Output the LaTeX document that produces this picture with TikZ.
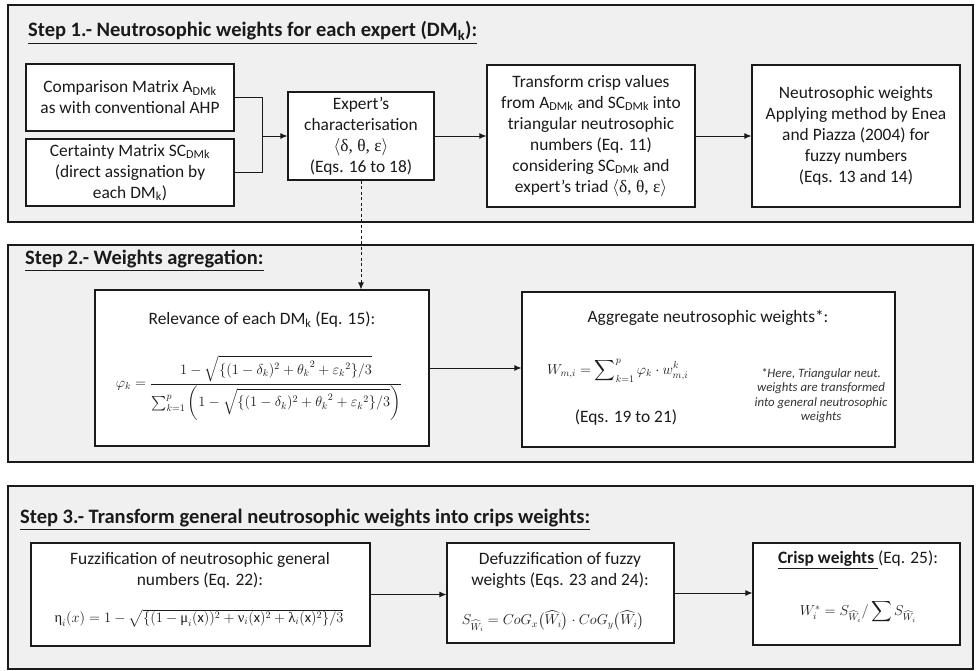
\documentclass[tikz,border=0pt]{standalone}
\usepackage{amsmath}
\usepackage{fontspec}
\setmainfont{Carlito}
\newfontfamily\grk{Liberation Serif}
\usetikzlibrary{arrows.meta}
\definecolor{panelgray}{HTML}{F0F0F0}
\definecolor{ink}{HTML}{1A1A1A}
\definecolor{notegray}{HTML}{333333}
\newcommand{\dmk}{\textsubscript{DMk}}
\newcommand{\triad}{$\langle${\grk δ, θ, ε}$\rangle$}
\newcommand{\gk}[1]{\text{\grk #1}}

\begin{document}
\begin{tikzpicture}[x=1pt,y=-1pt,
  panel/.style={draw=ink, line width=1.6pt, fill=panelgray},
  heading/.style={anchor=base west, inner sep=0pt, text=ink,
    font=\fontsize{20.5}{24}\selectfont\bfseries},
  frame/.style={draw=ink, line width=1.2pt, fill=white, inner sep=0pt},
  stepbox/.style={frame, align=center, text=ink,
    font=\fontsize{17.4}{21}\selectfont},
  txt/.style={inner sep=0pt, align=center, text=ink,
    font=\fontsize{17.4}{21}\selectfont},
  formula/.style={inner sep=0pt, text=ink, font=\fontsize{14.5}{17}\selectfont},
  note/.style={inner sep=0pt, align=center, text=notegray,
    font=\fontsize{12.8}{14.3}\selectfont\itshape},
  link/.style={draw=ink, line width=0.9pt},
  arr/.style={link, -{Latex[length=7pt,width=6pt]}},
]
\useasboundingbox (0,0) rectangle (976,671);

% ---------- panels ----------
\draw[panel] (8,5) rectangle (973,222);
\draw[panel] (8,245) rectangle (973,462);
\draw[panel] (8,486) rectangle (973,669);

\node[heading] (h1) at (28,37) {\underline{Step 1.- Neutrosophic weights for each expert (DM\textsubscript{k}):}};
\node[heading] (h2) at (25,264) {\underline{Step 2.- Weights agregation:}};
\node[heading] (h3) at (20,523) {\underline{Step 3.- Transform general neutrosophic weights into crips weights:}};

% ---------- step 1 ----------
\node[stepbox, minimum width=208, minimum height=67] (cmp) at (130,97.5)
  {Comparison Matrix A\dmk\\as with conventional AHP};
\node[stepbox, minimum width=208, minimum height=67] (cert) at (130,172.5)
  {Certainty Matrix SC\dmk\\(direct assignation by\\each DM\textsubscript{k})};
\node[stepbox, minimum width=146, minimum height=88] (exp) at (361,136)
  {Expert’s\\characterisation\\\triad\\(Eqs. 16 to 18)};
\node[stepbox, minimum width=208, minimum height=142] (tri) at (591,136)
  {Transform crisp values\\from A\dmk{} and SC\dmk{} into\\triangular neutrosophic\\numbers (Eq. 11)\\considering SC\dmk{} and\\expert’s triad \triad};
\node[stepbox, minimum width=208, minimum height=142] (nw) at (856,136)
  {Neutrosophic weights\\Applying method by Enea\\and Piazza (2004) for\\fuzzy numbers\\(Eqs. 13 and 14)};

\coordinate (join) at (262,136);
\draw[link] (cmp.east) -| (join);
\draw[link] (cert.east) -| (join);
\draw[arr] (join) -- (exp.west);
\draw[arr] (exp.east) -- (tri.west);
\draw[arr] (tri.east) -- (nw.west);

% ---------- step 2 ----------
\node[frame, minimum width=334, minimum height=156] (rel) at (262,368) {};
\node[txt] (relt) at (262,320) {Relevance of each DM\textsubscript{k} (Eq. 15):};
\node[formula] (relf) at (259,388) {$\displaystyle \varphi_k=\frac{1-\sqrt{\{(1-\delta_k)^2+{\theta_k}^2+{\varepsilon_k}^2\}/3}}{\sum_{k=1}^{p}\left(1-\sqrt{\{(1-\delta_k)^2+{\theta_k}^2+{\varepsilon_k}^2\}/3}\right)}$};

\node[frame, minimum width=373, minimum height=155] (agg) at (708.5,369.5) {};
\node[txt] (aggt) at (708,318) {Aggregate neutrosophic weights*:};
\node[formula, anchor=west] (aggf) at (547,371) {$\displaystyle W_{m,i}=\sum\nolimits_{k=1}^{p}\varphi_k\cdot w_{m,i}^{k}$};
\node[txt] (agge) at (626,418) {(Eqs. 19 to 21)};
\node[note] (aggn) at (821,395.5) {*Here, Triangular neut.\\weights are transformed\\into general neutrosophic\\weights};

\draw[arr, dash pattern=on 3pt off 2.5pt] (exp.south) -- (exp.south |- rel.north);
\draw[arr] (rel.east) -- (rel.east -| agg.west);

% ---------- step 3 ----------
\node[frame, minimum width=339, minimum height=103] (fz) at (200.5,594.5) {};
\node[txt] (fzt) at (200,570) {Fuzzification of neutrosophic general\\numbers (Eq. 22):};
\node[formula] (fzf) at (199,618) {$\gk{η}_i(x)=1-\sqrt{\{(1-\gk{μ}_i(\mathrm{x}))^2+\gk{ν}_i(\mathrm{x})^2+\gk{λ}_i(\mathrm{x})^2\}/3}$};

\node[frame, minimum width=227, minimum height=100] (dfz) at (560.5,593) {};
\node[txt] (dfzt) at (560,570) {Defuzzification of fuzzy\\weights (Eqs. 23 and 24):};
\node[formula] (dfzf) at (553,621) {$S_{\widehat{W}_i}=CoG_x\bigl(\widehat{W}_i\bigr)\cdot CoG_y\bigl(\widehat{W}_i\bigr)$};

\node[frame, minimum width=207, minimum height=102] (cw) at (856.5,594) {};
\node[txt] (cwt) at (858,560) {\underline{\bfseries Crisp weights }(Eq. 25):};
\node[formula] (cwf) at (858,612) {$W_i^{*}=S_{\widehat{W}_i}/\displaystyle\sum S_{\widehat{W}_i}$};

\draw[arr] (fz.east) -- (dfz.west |- fz.east);
\draw[arr] (dfz.east) -- (cw.west |- dfz.east);
\end{tikzpicture}
\end{document}
